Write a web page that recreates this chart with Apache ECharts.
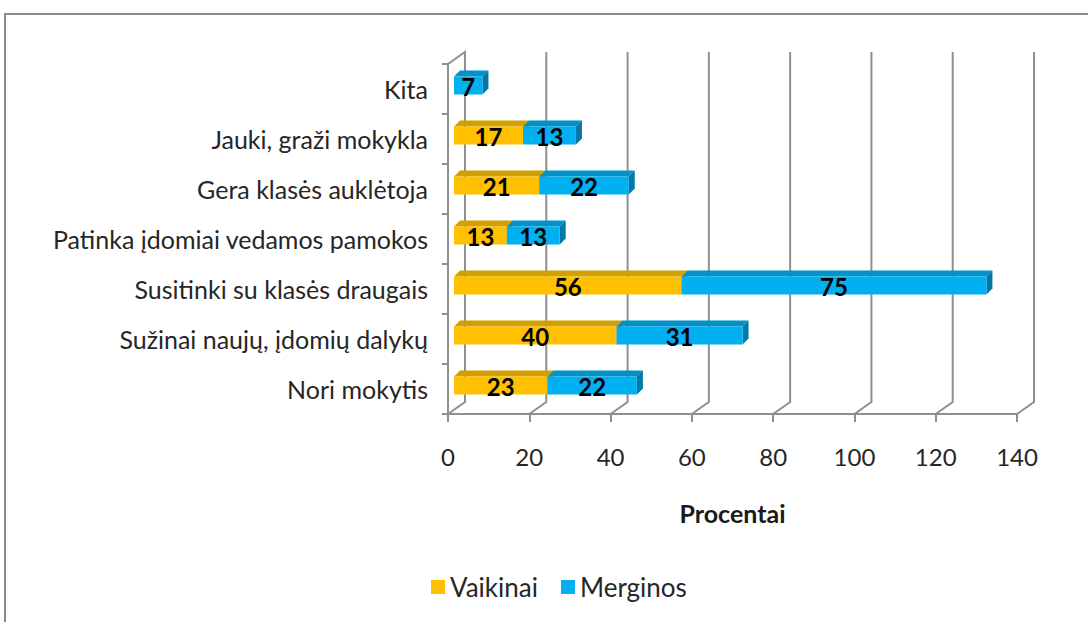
<!DOCTYPE html>
<html><head><meta charset="utf-8">
<script src="https://cdn.jsdelivr.net/npm/echarts@6/dist/echarts.min.js"></script>
<style>html,body{margin:0;padding:0;background:#fff}#c{width:1088px;height:622px}</style>
</head><body><div id="c"></div>
<script>
const categories = ['Nori mokytis','Sužinai naujų, įdomių dalykų','Susitinki su klasės draugais','Patinka įdomiai vedamos pamokos','Gera klasės auklėtoja','Jauki, graži mokykla','Kita'];
const vaikinai = [23, 40, 56, 13, 21, 17, 0];
const merginos = [22, 31, 75, 13, 22, 13, 7];
const xTicks = [0, 20, 40, 60, 80, 100, 120, 140];
const seriesNames = ['Vaikinai', 'Merginos'];
const axisTitle = 'Procentai';

const FONT = 'Lato';
const WALL_DX = 17, WALL_DY = -12;
const BAR_OX = 6, BAR_OY = -3.5, BAR_H = 18, BAR_D = 6;
const GRID_COLOR = '#8f8f8f';
const faces = {
  Vaikinai: {front: '#FFC000', top: '#D2A000', side: '#B88A00'},
  Merginos: {front: '#00B0F0', top: '#0092C8', side: '#0079A8'}
};

function renderWall(params, api) {
  const cs = params.coordSys;
  const v = api.value(0);
  const x = api.coord([v, 0])[0];
  const floor = cs.y + cs.height, top = cs.y;
  const pts = [[x, floor], [x + WALL_DX, floor + WALL_DY], [x + WALL_DX, top + WALL_DY]];
  if (v === 0) pts.push([x, top]);
  return {type: 'polyline', shape: {points: pts}, style: {stroke: GRID_COLOR, lineWidth: 2, fill: null}};
}

function makeRenderer(name) {
  const col = faces[name];
  return function (params, api) {
    const s = api.value(0), e = api.value(1), c = api.value(2), val = api.value(3);
    if (!(e - s > 0)) return;
    const p0 = api.coord([s, c]), p1 = api.coord([e, c]);
    const xl = p0[0] + BAR_OX, xr = p1[0] + BAR_OX;
    const cy = p0[1] + BAR_OY;
    const t = cy - BAR_H / 2, b = cy + BAR_H / 2;
    return {
      type: 'group',
      children: [
        {type: 'polygon', shape: {points: [[xl, t], [xr, t], [xr + BAR_D, t - BAR_D], [xl + BAR_D, t - BAR_D]]}, style: {fill: col.top}},
        {type: 'polygon', shape: {points: [[xr, t], [xr + BAR_D, t - BAR_D], [xr + BAR_D, b - BAR_D], [xr, b]]}, style: {fill: col.side}},
        {type: 'rect', shape: {x: xl, y: t, width: xr - xl, height: BAR_H}, style: {fill: col.front}},
        {type: 'text', style: {text: String(val), x: (xl + xr) / 2, y: cy + 1, align: 'center', verticalAlign: 'middle',
          fontFamily: FONT, fontWeight: 'bold', fontSize: 24, fill: '#000'}}
      ]
    };
  };
}

const vData = vaikinai.map((v, i) => [0, v, i, v]);
const mData = merginos.map((m, i) => [vaikinai[i], vaikinai[i] + m, i, m]);

const chart = echarts.init(document.getElementById('c'), null, {renderer: 'svg'});
chart.setOption({
  backgroundColor: '#fff',
  animation: false,
  graphic: [{type: 'rect', shape: {x: 5, y: 14, width: 1200, height: 700}, style: {fill: null, stroke: '#8a8a8a', lineWidth: 2}, silent: true}],
  grid: {left: 448, right: 71, top: 64, bottom: 208, containLabel: false},
  legend: {
    data: seriesNames, left: 426, top: 569, itemWidth: 14, itemHeight: 14, icon: 'rect', itemGap: 23,
    textStyle: {fontFamily: FONT, fontSize: 26, color: '#262626'}
  },
  xAxis: {
    type: 'value', min: 0, max: 140, interval: 20,
    axisLine: {show: true, lineStyle: {color: GRID_COLOR, width: 2}},
    axisTick: {show: true, length: 8, lineStyle: {color: GRID_COLOR, width: 2}},
    axisLabel: {margin: 30, fontFamily: FONT, fontSize: 24, color: '#262626'},
    splitLine: {show: false},
    name: axisTitle, nameLocation: 'middle', nameGap: 86,
    nameTextStyle: {fontFamily: FONT, fontSize: 25, fontWeight: 'bold', color: '#1a1a1a'}
  },
  yAxis: {
    type: 'category', data: categories,
    axisLine: {show: true, lineStyle: {color: GRID_COLOR, width: 2}},
    axisTick: {show: true, length: 6, lineStyle: {color: GRID_COLOR, width: 2}},
    axisLabel: {margin: 20, fontFamily: FONT, fontSize: 25, color: '#262626'},
    splitLine: {show: false}
  },
  series: [
    {type: 'custom', name: 'wall', data: xTicks.map(v => [v, 0]), encode: {x: 0, y: 1}, renderItem: renderWall, z: 1, silent: true},
    {type: 'custom', name: 'Vaikinai', data: vData, encode: {x: [0, 1], y: 2}, renderItem: makeRenderer('Vaikinai'), itemStyle: {color: faces.Vaikinai.front}, z: 2},
    {type: 'custom', name: 'Merginos', data: mData, encode: {x: [0, 1], y: 2}, renderItem: makeRenderer('Merginos'), itemStyle: {color: faces.Merginos.front}, z: 3}
  ]
});
</script></body></html>
